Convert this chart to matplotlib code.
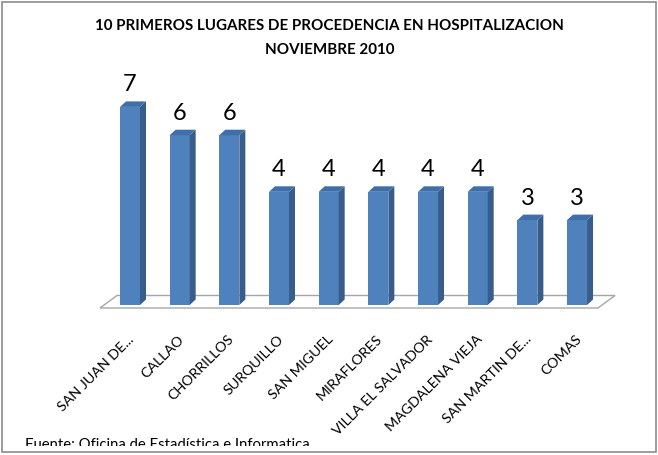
import matplotlib
matplotlib.use("Agg")
import matplotlib.pyplot as plt
from matplotlib.patches import Polygon, Rectangle
from matplotlib.transforms import Bbox

# data
lugares = ["SAN JUAN DE...", "CALLAO", "CHORRILLOS", "SURQUILLO", "SAN MIGUEL",
           "MIRAFLORES", "VILLA EL SALVADOR", "MAGDALENA VIEJA", "SAN MARTIN DE...", "COMAS"]
casos = [7, 6, 6, 4, 4, 4, 4, 4, 3, 3]
titulo = ["10 PRIMEROS LUGARES DE PROCEDENCIA EN HOSPITALIZACION", "NOVIEMBRE 2010"]
fuente = "Fuente: Oficina de Estadística e Informatica"

plt.rcParams['font.family'] = ['Lato', 'DejaVu Sans']

W, H = 658, 455
fig = plt.figure(figsize=(W / 100, H / 100), dpi=100)

# plot area in pixels
px_x = 49.67          # pixels per category
px_y = 28.3           # pixels per unit
left_px = 130 - 0.5 * px_x
base_px = 305         # baseline, from top
ymax = 8
ax = fig.add_axes([left_px / W, (H - base_px) / H, 10 * px_x / W, ymax * px_y / H])
ax.set_xlim(-0.5, 9.5)
ax.set_ylim(0, ymax)
ax.axis("off")

front = "#4F81BD"
side = "#385D8A"
top = "#3F6FA9"

# 3d depth of bars (pixels -> data)
dx = 6 / px_x
dy = 5.5 / px_y
bw = 20 / px_x

# floor
fx0, fx1 = -30 / px_x, 9 + 21 / px_x
fy0 = -3 / px_y
fdx, fdy = 17 / px_x, 12.5 / px_y
floor = Polygon([(fx0, fy0), (fx1, fy0), (fx1 + fdx, fy0 + fdy), (fx0 + fdx, fy0 + fdy)],
                closed=True, facecolor="white", edgecolor="#A6A6A6", lw=1.0,
                clip_on=False, zorder=1)
ax.add_patch(floor)

x = list(range(len(casos)))
ax.bar(x, casos, width=bw, color=front, zorder=3, clip_on=False)

for i, v in enumerate(casos):
    l, r = i - bw / 2, i + bw / 2
    ax.add_patch(Polygon([(r, 0), (r + dx, dy), (r + dx, v + dy), (r, v)],
                         closed=True, facecolor=side, edgecolor="none",
                         clip_on=False, zorder=3))
    ax.add_patch(Polygon([(l, v), (l + dx, v + dy), (r + dx, v + dy), (r, v)],
                         closed=True, facecolor=top, edgecolor="none",
                         clip_on=False, zorder=3))
    ax.annotate(str(v), (i, v), xytext=(0, 15.5 * 0.72), textcoords="offset points",
                ha="center", va="baseline", fontsize=17, color="black")

# category labels
for i, name in enumerate(lugares):
    ax.text(i - 2 / px_x, -28 / px_y, name, rotation=45, rotation_mode="anchor",
            ha="right", va="top", fontsize=10.3, color="black")

# title
fig.text(329.5 / W, 1 - 26 / H, titulo[0], ha="center", va="center",
         fontsize=10.9, fontweight="bold")
fig.text(329.5 / W, 1 - 50 / H, titulo[1], ha="center", va="center",
         fontsize=10.9, fontweight="bold")

# source, cut by the frame
src = fig.text(25 / W, 1 - 449 / H, fuente, ha="left", va="baseline", fontsize=10.7)
src.set_clip_box(Bbox([[0, H - 446], [W, H]]))

# frame
fig.patches.append(Rectangle((2 / W, 3 / H), (W - 4) / W, (H - 5) / H,
                             transform=fig.transFigure, fill=False,
                             edgecolor="#8C8C8C", lw=1.2))

fig.savefig("out.png", dpi=100)
